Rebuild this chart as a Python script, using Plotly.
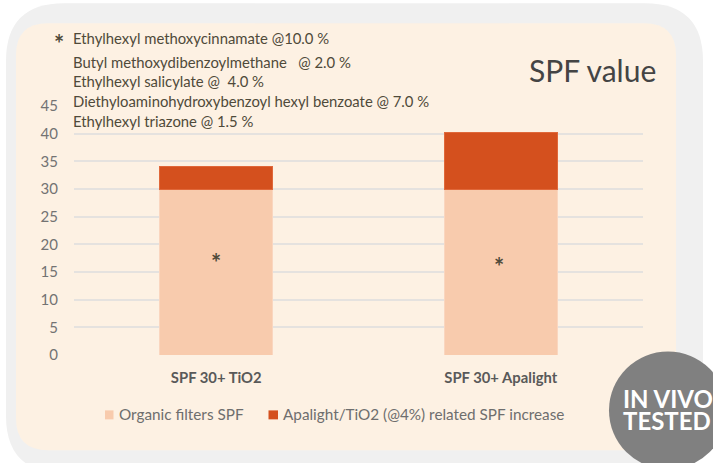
import plotly.graph_objects as go

W, H = 713, 463
L, R, T, B = 74, 643, 106, 355.5

categories = ["SPF 30+ TiO2", "SPF 30+ Apalight"]
organic_spf = [30, 30]
increase_spf = [4, 10.2]
star_y = [17.4, 16.7]
star_x_offset = [0, -2]
y_ticks = [0, 5, 10, 15, 20, 25, 30, 35, 40, 45]
series_names = ["Organic filters SPF", "Apalight/TiO2 (@4%) related SPF increase"]
filters = [
    ("Ethylhexyl methoxycinnamate @10.0 %", 38),
    ("Butyl methoxydibenzoylmethane   @ 2.0 %", 62),
    ("Ethylhexyl salicylate @  4.0 %", 81),
    ("Diethyloaminohydroxybenzoyl hexyl benzoate @ 7.0 %", 101),
    ("Ethylhexyl triazone @ 1.5 %", 121),
]

FONT = "Lato, 'Open Sans', sans-serif"
PW, PH = R - L, B - T
def px(x): return (x - L) / PW
def py(y): return (B - y) / PH

def rrect(x0, y0, x1, y1, r):
    a, b, c, d = px(x0), py(y0), px(x1), py(y1)
    rx, ry = r / PW, r / PH
    return (f"M{a+rx},{b} L{c-rx},{b} Q{c},{b} {c},{b-ry} L{c},{d+ry} Q{c},{d} {c-rx},{d} "
            f"L{a+rx},{d} Q{a},{d} {a},{d+ry} L{a},{b-ry} Q{a},{b} {a+rx},{b} Z")

COL1, COL2 = "#F8CBAD", "#D4501E"
fig = go.Figure()
fig.add_bar(x=categories, y=organic_spf, name=series_names[0], marker_color=COL1,
            marker_line=dict(color="#FAD6BF", width=1), width=0.396, showlegend=False)
fig.add_bar(x=categories, y=increase_spf, name=series_names[1], marker_color=COL2,
            marker_line=dict(color="#E0683A", width=1), width=0.396, showlegend=False)

def square(x0, x1, y0, y1, color):
    return dict(type="rect", xref="paper", yref="paper", x0=px(x0), x1=px(x1), y0=py(y0), y1=py(y1),
                fillcolor=color, line_width=0, layer="below")

shapes = [
    dict(type="path", path=rrect(6, 3, 703, 474, 58), xref="paper", yref="paper",
         fillcolor="#F0F0F0", line_width=0, layer="below"),
    dict(type="path", path=rrect(16, 23, 676, 451, 32), xref="paper", yref="paper",
         fillcolor="#FDF1E3", line_width=0, layer="below"),
    square(105, 113.5, 411, 420, COL1),
    square(268.5, 278, 411, 420, COL2),
    dict(type="circle", xref="paper", yref="paper", x0=px(609), x1=px(727), y0=py(352), y1=py(470),
         fillcolor="#808080", line_width=0, layer="above"),
]

ann = []
def text(x, y, s, size, color, anchor="left", **kw):
    ann.append(dict(x=px(x), y=py(y), xref="paper", yref="paper", text=s, showarrow=False,
                    xanchor=anchor, yanchor="middle", font=dict(family=FONT, size=size, color=color), **kw))

for s, y in filters:
    text(71, y, s, 14.85, "#4F4A3A")
text(59, 43, "<b>*</b>", 24, "#4F4A3A", "center")
text(658, 70, "SPF value", 30, "#444444", "right")
text(116.5, 415, series_names[0], 15.3, "#6E6E6E")
text(280.5, 415, series_names[1], 15.3, "#6E6E6E")
for i, c in enumerate(categories):
    ann.append(dict(x=c, y=star_y[i], xref="x", yref="y", text="<b>*</b>", showarrow=False,
                    xshift=star_x_offset[i], yshift=-4, font=dict(family=FONT, size=24, color="#4F4A3A")))
text(620.5, 399, "<b>IN VIVO</b>", 24, "#FFFFFF")
text(620.5, 421, "<b>TESTED</b>", 24, "#FFFFFF")

fig.update_layout(
    width=W, height=H, barmode="stack", bargap=0.6,
    margin=dict(l=L, r=W - R, t=T, b=H - B, pad=0, autoexpand=False),
    paper_bgcolor="#FFFFFF", plot_bgcolor="rgba(0,0,0,0)",
    font=dict(family=FONT, size=14, color="#6B6B6B"),
    shapes=shapes, annotations=ann, showlegend=False,
    xaxis=dict(tickfont=dict(size=14.8, color="#595959", family=FONT), showgrid=False, ticks="",
               showline=False, zeroline=False, ticklabelstandoff=12,
               tickprefix="<b>", ticksuffix="</b>"),
    yaxis=dict(range=[0, 45], tickvals=y_ticks, gridcolor="#E5E2DF", gridwidth=1.5, zeroline=False,
               ticks="", tickfont=dict(size=15, color="#737373", family=FONT), ticklabelstandoff=15),
)
fig.write_html("out.html", config={"displayModeBar": False}, post_script="document.body.style.margin='0';")
